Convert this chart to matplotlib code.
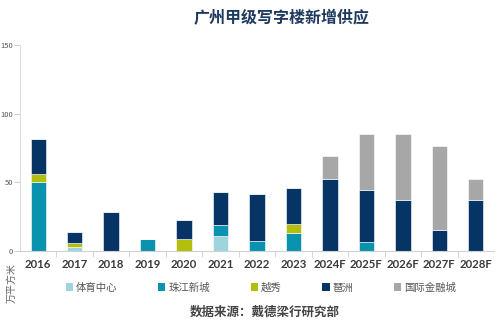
import numpy as np
import matplotlib
matplotlib.use('Agg')
import matplotlib.pyplot as plt
from matplotlib.patches import Patch

plt.rcParams['font.family'] = ['Noto Sans CJK SC', 'DejaVu Sans']

# Guangzhou Grade A office new supply (10k sqm)
years = ['2016', '2017', '2018', '2019', '2020', '2021', '2022', '2023',
         '2024F', '2025F', '2026F', '2027F', '2028F']
tiyu = [0, 3, 0, 0, 0, 10.5, 0, 0, 0, 0, 0, 0, 0]
zhujiang = [50, 0, 0, 9, 0, 8, 7, 13, 0, 6.5, 0, 0, 0]
yuexiu = [6, 2.5, 0, 0, 8.3, 0, 0, 6.5, 0, 0, 0, 0, 0]
pazhou = [25.3, 8, 28, 0, 14.3, 24.2, 34.5, 26, 52, 37.5, 37, 15.3, 37]
ifc = [0, 0, 0, 0, 0, 0, 0, 0, 17, 41, 48, 61, 15]

series = ['体育中心', '珠江新城', '越秀', '琶洲', '国际金融城']
colors = ['#9dd4de', '#0a93ae', '#b3bf0c', '#063565', '#a7a7a7']

fig = plt.figure(figsize=(5, 3.25), dpi=100)
ax = fig.add_axes([0.04, 0.228, 0.948, 0.634])

x = np.arange(len(years))
bottom = np.zeros(len(years))
for vals, c in zip([tiyu, zhujiang, yuexiu, pazhou, ifc], colors):
    vals = np.array(vals, dtype=float)
    ax.bar(x, vals, 0.42, bottom=bottom, color=c, edgecolor='white',
           linewidth=0.4)
    bottom += vals

ax.set_xlim(-0.5, len(years) - 0.5)
ax.set_ylim(0, 150)
ax.set_yticks([0, 50, 100, 150])
ax.set_xticks(x)
ax.set_xticklabels(years, fontsize=8.2, fontweight='bold', color='#3a3a3a',
                   family=['Lato', 'DejaVu Sans'])
ax.set_xticks(np.arange(len(years) - 1) + 0.5, minor=True)
ax.tick_params(axis='x', which='major', length=0, pad=6)
ax.tick_params(axis='x', which='minor', length=4, color='#d0d0d0')
ax.tick_params(axis='y', length=4, color='#d0d0d0', labelsize=5.5,
               labelcolor='#555555', pad=1)
for s in ['top', 'right']:
    ax.spines[s].set_visible(False)
ax.spines['left'].set_color('#dddddd')
ax.spines['bottom'].set_color('#d0d0d0')

fig.text(0.564, 0.945, '广州甲级写字楼新增供应', ha='center', va='center',
         fontsize=11.5, fontweight='bold', color='#1f3a5f')
fig.text(0.024, 0.13, '万平方米', rotation=90, ha='center', va='center',
         fontsize=7.2, color='#666666')
fig.text(0.53, 0.04, '数据来源：戴德梁行研究部', ha='center', va='center',
         fontsize=9, fontweight='bold', color='#444444')

handles = [Patch(facecolor=c) for c in colors]
fig.legend(handles, series, loc='center', bbox_to_anchor=(0.522, 0.115),
           ncol=5, frameon=False, fontsize=7.5, handlelength=0.7,
           handleheight=0.7, handletextpad=0.3, columnspacing=3.9,
           labelcolor='#555555')

fig.savefig('out.png', dpi=100, facecolor='white')
